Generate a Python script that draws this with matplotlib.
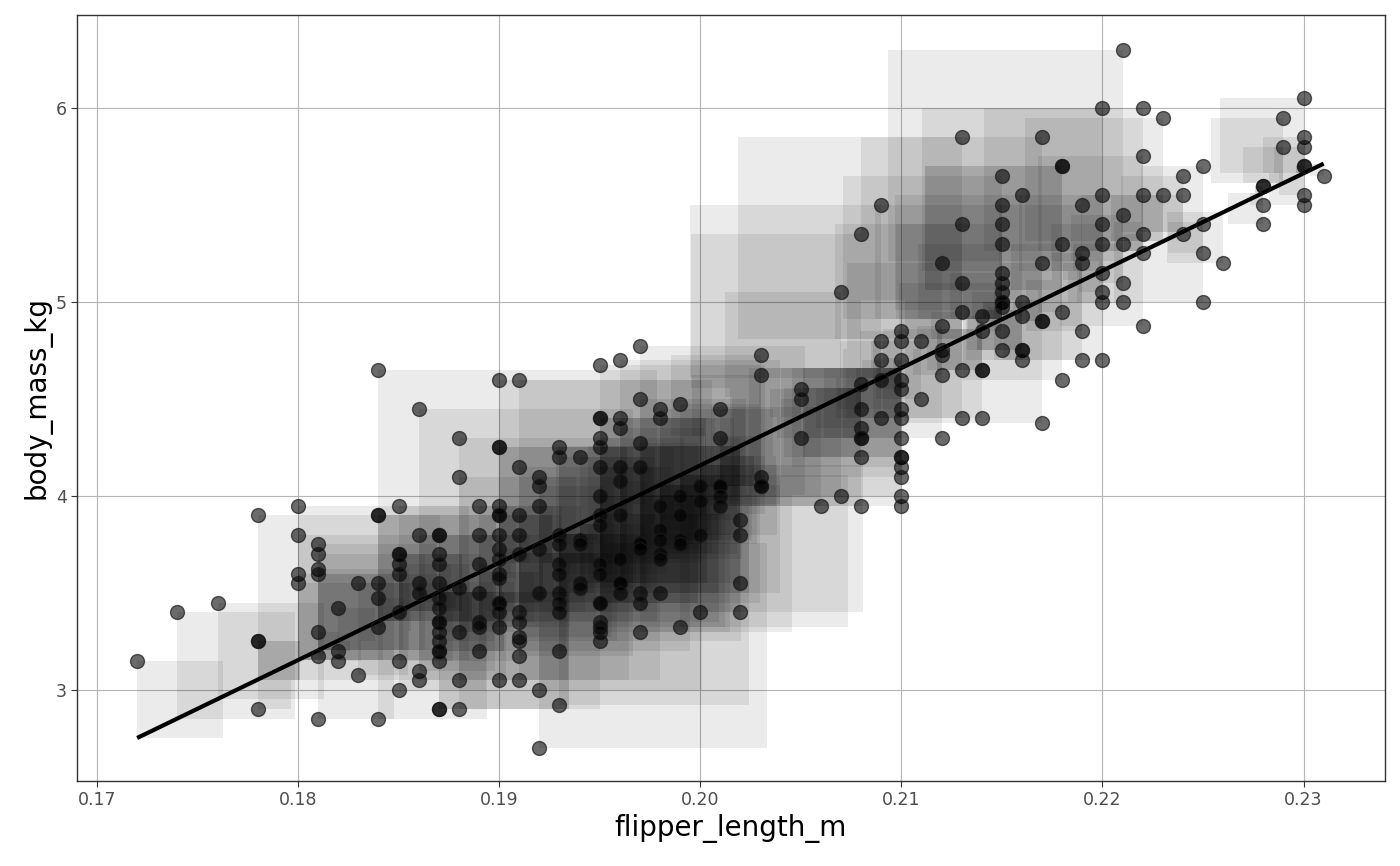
import numpy as np
import matplotlib
matplotlib.use("Agg")
import matplotlib.pyplot as plt
from matplotlib.patches import Rectangle

flipper_mm = [172, 174, 176, 178, 180, 181, 182, 183, 184, 185, 186, 187, 188,
              189, 190, 191, 192, 193, 194, 195, 196, 197, 198, 199, 200, 201,
              202, 203, 205, 206, 207, 208, 209, 210, 211, 212, 213, 214, 215,
              216, 217, 218, 219, 220, 221, 222, 223, 224, 225, 226, 228, 229,
              230, 231]

mass_kg = [
    [3.15],
    [3.40],
    [3.45],
    [3.90, 3.25, 3.25, 2.90],
    [3.95, 3.80, 3.60, 3.55],
    [3.75, 3.70, 3.625, 3.60, 3.30, 3.175, 2.85],
    [3.425, 3.20, 3.15],
    [3.55, 3.075],
    [4.65, 3.90, 3.90, 3.55, 3.475, 3.325, 2.85],
    [3.95, 3.70, 3.70, 3.65, 3.60, 3.40, 3.15, 3.00],
    [4.45, 3.80, 3.55, 3.50, 3.10, 3.05],
    [3.80, 3.80, 3.70, 3.65, 3.55, 3.475, 3.425, 3.35, 3.35, 3.30, 3.25,
     3.20, 3.20, 3.15, 2.90, 2.90],
    [4.30, 4.10, 3.525, 3.30, 3.05, 2.90],
    [3.95, 3.80, 3.65, 3.50, 3.35, 3.325, 3.20],
    [4.60, 4.25, 4.25, 3.95, 3.90, 3.90, 3.80, 3.725, 3.675, 3.60, 3.575,
     3.45, 3.45, 3.40, 3.325, 3.05],
    [4.60, 4.15, 3.90, 3.80, 3.70, 3.40, 3.35, 3.275, 3.25, 3.175, 3.05],
    [4.10, 4.05, 3.95, 3.725, 3.50, 3.00, 2.70],
    [4.25, 4.20, 3.80, 3.75, 3.65, 3.60, 3.50, 3.45, 3.40, 3.20, 2.925],
    [4.20, 3.775, 3.75, 3.55, 3.525],
    [4.675, 4.40, 4.40, 4.30, 4.25, 4.15, 4.00, 3.90, 3.85, 3.65, 3.60,
     3.45, 3.45, 3.35, 3.325, 3.30, 3.25],
    [4.70, 4.40, 4.35, 4.15, 4.075, 3.90, 3.675, 3.55, 3.55, 3.50],
    [4.775, 4.50, 4.275, 4.15, 3.76, 3.75, 3.725, 3.50, 3.45, 3.30],
    [4.45, 4.40, 3.95, 3.825, 3.775, 3.70, 3.675, 3.50],
    [4.475, 4.00, 3.90, 3.775, 3.75, 3.325],
    [4.05, 3.975, 3.80, 3.40],
    [4.45, 4.30, 4.05, 4.05, 4.00, 3.95],
    [3.875, 3.80, 3.55, 3.40],
    [4.725, 4.625, 4.10, 4.05, 4.05],
    [4.55, 4.50, 4.30],
    [3.95],
    [5.05, 4.00],
    [5.35, 4.575, 4.45, 4.35, 4.30, 4.30, 4.20, 3.95],
    [5.50, 4.80, 4.70, 4.60, 4.40],
    [4.85, 4.80, 4.70, 4.60, 4.55, 4.45, 4.40, 4.30, 4.20, 4.20, 4.15,
     4.10, 4.00, 3.95],
    [4.80, 4.50],
    [5.20, 4.875, 4.75, 4.725, 4.625, 4.30],
    [5.85, 5.40, 5.10, 4.95, 4.65, 4.40],
    [4.925, 4.85, 4.65, 4.65, 4.40],
    [5.65, 5.50, 5.40, 5.30, 5.15, 5.10, 5.05, 5.00, 5.00, 4.975, 4.85, 4.75],
    [5.55, 5.00, 4.925, 4.75, 4.75, 4.70],
    [5.85, 5.20, 4.90, 4.90, 4.375],
    [5.70, 5.70, 5.30, 4.95, 4.60],
    [5.50, 5.25, 5.20, 4.85, 4.70],
    [6.00, 5.55, 5.40, 5.30, 5.15, 5.05, 5.00, 4.70],
    [6.30, 5.45, 5.30, 5.10, 5.00],
    [6.00, 5.75, 5.55, 5.35, 5.25, 4.875],
    [5.95, 5.55],
    [5.65, 5.55, 5.35],
    [5.70, 5.40, 5.25, 5.00],
    [5.20],
    [5.60, 5.60, 5.50, 5.40],
    [5.95, 5.80],
    [6.05, 5.85, 5.80, 5.70, 5.70, 5.55, 5.50],
    [5.65],
]

x_ticks = [0.17, 0.18, 0.19, 0.20, 0.21, 0.22, 0.23]
x_tick_labels = ["0.17", "0.18", "0.19", "0.20", "0.21", "0.22", "0.23"]
y_ticks = [3, 4, 5, 6]
y_tick_labels = ["3", "4", "5", "6"]

x = np.array([f / 1000 for f, ms in zip(flipper_mm, mass_kg) for _ in ms])
y = np.array([m for ms in mass_kg for m in ms])

slope, intercept = np.polyfit(x, y, 1)
y_hat = intercept + slope * x
resid = y - y_hat
x_mean = x.mean()

# horizontal size of a residual square, metres per kg of residual
sq_scale = 0.0107

fig = plt.figure(figsize=(14, 8.66), dpi=100)
ax = fig.add_axes([0.055, 0.0982, 0.934, 0.8845])

for xi, yi, yh, r in zip(x, y, y_hat, resid):
    w = abs(r) * sq_scale
    left = xi if xi < x_mean else xi - w
    ax.add_patch(Rectangle((left, min(yi, yh)), w, abs(r),
                           facecolor="black", alpha=0.08,
                           edgecolor="none", zorder=2))

xl = np.array([x.min(), x.max()])
ax.plot(xl, intercept + slope * xl, color="black", lw=3.0, zorder=3,
        solid_capstyle="butt")

ax.scatter(x, y, s=100, facecolor=(0, 0, 0, 0.58),
           edgecolor=(0.1, 0.1, 0.1, 0.7), linewidth=1.0, zorder=4)

ax.set_xlim(0.16901, 0.23403)
ax.set_ylim(2.531, 6.479)
ax.set_xticks(x_ticks)
ax.set_xticklabels(x_tick_labels)
ax.set_yticks(y_ticks)
ax.set_yticklabels(y_tick_labels)

ax.grid(True, color="#b5b5b5", linewidth=0.8, zorder=0)
ax.set_axisbelow(True)
for s in ax.spines.values():
    s.set_color("#333333")
    s.set_linewidth(1.0)
ax.tick_params(axis="both", colors="#333333", labelcolor="#4d4d4d",
               labelsize=12.5, length=4, width=0.8)

ax.set_xlabel("flipper_length_m", fontsize=20, color="black", labelpad=3)
ax.set_ylabel("body_mass_kg", fontsize=20, color="black", labelpad=3)

fig.savefig("out.png", dpi=100)
